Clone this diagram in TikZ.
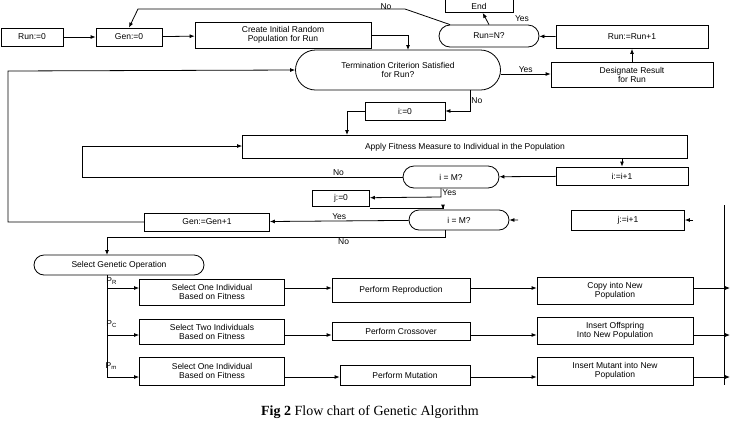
\documentclass[tikz,border=0pt]{standalone}
\usepackage{fontspec}
\setmainfont{Liberation Serif}
\newfontfamily\chartfont{Liberation Sans}
\usetikzlibrary{shapes.misc,arrows.meta}
\tikzset{
  box/.style={draw,thick,inner sep=1pt,align=center,font=\chartfont\fontsize{8.5}{9.5}\selectfont},
  test/.style={box,rounded rectangle},
  flow/.style={thick,-{Latex[length=5pt,width=4pt]}},
  lbl/.style={font=\chartfont\fontsize{8.5}{9.5}\selectfont,inner sep=1pt}
}
\newcommand{\stepbox}[6]{%
 \node[box,minimum width=#4pt,minimum height=#5pt] (#1) at (#2,#3) {#6};%
}
\begin{document}
\begin{tikzpicture}[x=1pt,y=-1pt]
  \useasboundingbox (0,0) rectangle (739,424);
  % upper loop over runs
  \stepbox{run0}{32}{37}{62}{18}{Run:=0}
  \stepbox{gen0}{129}{37}{66}{18}{Gen:=0}
  \stepbox{create}{283}{35}{176}{26}{Create Initial Random\\Population for Run}
  \node[box] (finish) at (479,6) [minimum width=68pt,minimum height=13pt] {End};
  \node[test,minimum width=102pt,minimum height=22pt] (runN) at (489,36) {Run=N?};
  \stepbox{runinc}{632}{37}{152}{23}{Run:=Run+1}
  \stepbox{result}{632}{75}{162}{25}{Designate Result\\for Run}
  \node[test,minimum width=207pt,minimum height=40pt] (term) at (398,70) {Termination Criterion Satisfied\\for Run?};
  \stepbox{izero}{405}{111}{80}{18}{i:=0}
  \stepbox{apply}{465}{147}{445}{23}{Apply Fitness Measure to Individual in the Population}
  \stepbox{iinc}{622}{176}{132}{18}{i:=i+1}
  \node[test,minimum width=98pt,minimum height=22pt] (iM) at (451,177) {i = M?};
  \stepbox{jzero}{341}{198}{57}{16}{j:=0}
  \node[test,minimum width=102pt,minimum height=20pt] (jM) at (459,220) {i = M?};
  \stepbox{jinc}{628}{220}{113}{20}{j:=i+1}
  \stepbox{geninc}{207}{222}{125}{18}{Gen:=Gen+1}
  \node[test,minimum width=172pt,minimum height=20pt] (select) at (119,265) {Select Genetic Operation};
  % genetic operations
  \stepbox{selA}{212}{292}{145}{26}{Select One Individual\\Based on Fitness}
  \stepbox{selB}{212}{332}{145}{25}{Select Two Individuals\\Based on Fitness}
  \stepbox{selC}{212}{371}{145}{28}{Select One Individual\\Based on Fitness}
  \stepbox{opA}{401}{290}{138}{24}{Perform Reproduction}
  \stepbox{opB}{401}{331}{138}{18}{Perform Crossover}
  \stepbox{opC}{405}{375}{130}{20}{Perform Mutation}
  \stepbox{newA}{615}{291}{156}{27}{Copy into New\\Population}
  \stepbox{newB}{615}{331}{156}{27}{Insert Offspring\\Into New Population}
  \stepbox{newC}{615}{371}{156}{28}{Insert Mutant into New\\Population}
  \coordinate (rail) at (107,275);
  \coordinate (outA) at (730,288);
  \coordinate (outB) at (730,335);
  \coordinate (outC) at (730,377);
  \coordinate (feedJ) at (518,220);
  \coordinate (feedK) at (693,220);
  % connectors
  \draw[flow] (run0) -- (gen0);
  \draw[flow] (gen0) -- (create);
  \draw[flow] (create.east) -- (408,35) -- (408,50);
  \draw[flow] (runN.north) -- (finish);
  \draw[flow] (runinc) -- (runN);
  \draw[flow] (result) -- (runinc);
  \draw[flow] (term.east |- 0,74) -- node[lbl,above]{Yes} (result.west |- 0,74);
  \draw[flow] (runN.north west) -- (405,9) -- (138,9) -- (gen0.north);
  \node[lbl] at (386,7) {No};
  \node[lbl] at (522,19) {Yes};
  \draw[flow] (term.south -| 470,0) -- node[lbl,right]{No} (470,111) -- (izero);
  \draw[flow] (izero.west) -- (347,111) -- (347,135);
  \draw[flow] (apply.south -| iinc) -- (iinc);
  \draw[flow] (iinc) -- (iM);
  \draw[flow] (iM) -- node[lbl,above,pos=.2]{No} (82,177) -- (82,146) -- (apply.west |- 0,146);
  \draw[flow] (iM.south -| 441,0) -- node[lbl,right]{Yes} (441,197) -- (jzero);
  \draw[flow] (jzero.east |- 0,208) -- (443,208) -- (jM.north -| 443,0);
  \draw[flow] (feedJ) -- (jM);
  \draw[flow] (feedK) -- (jinc);
  \draw[flow] (jM) -- node[lbl,above]{Yes} (geninc);
  \draw[flow] (geninc) -- (8,222) -- (8,71) -- (term.west);
  \draw[flow] (jM.south -| 445,0) -- (445,237) -- node[lbl,below,pos=.3]{No} (107,237) -- (107,255);
  \draw[thick] (rail) -- (107,377);
  \draw[flow] (107,288) -- node[lbl,above left,pos=0.35,yshift=2pt]{P\textsubscript{R}} (selA.west |- 0,288);
  \draw[flow] (107,335) -- node[lbl,above left,pos=0.35,yshift=6pt]{P\textsubscript{C}} (selB.west |- 0,335);
  \draw[flow] (107,377) -- node[lbl,above left,pos=0.35,yshift=6pt]{P\textsubscript{m}} (selC.west |- 0,377);
  \draw[flow] (selA.east |- 0,288) -- (opA.west |- 0,288);
  \draw[flow] (opA.east |- 0,288) -- (newA.west |- 0,288);
  \draw[flow] (selB.east |- 0,335) -- (opB.west |- 0,335);
  \draw[flow] (opB.east |- 0,335) -- (newB.west |- 0,335);
  \draw[flow] (selC.east |- 0,377) -- (opC.west |- 0,377);
  \draw[flow] (opC.east |- 0,377) -- (newC.west |- 0,377);
  \draw[flow] (newA.east |- 0,288) -- (outA);
  \draw[flow] (newB.east |- 0,335) -- (outB);
  \draw[flow] (newC.east |- 0,377) -- (outC);
  \draw[thick] (724,205) -- (724,385);
  % caption
  \node (caption) at (370,412) {\fontsize{14}{16}\selectfont\textbf{Fig 2} Flow chart of Genetic Algorithm};
\end{tikzpicture}
\end{document}
